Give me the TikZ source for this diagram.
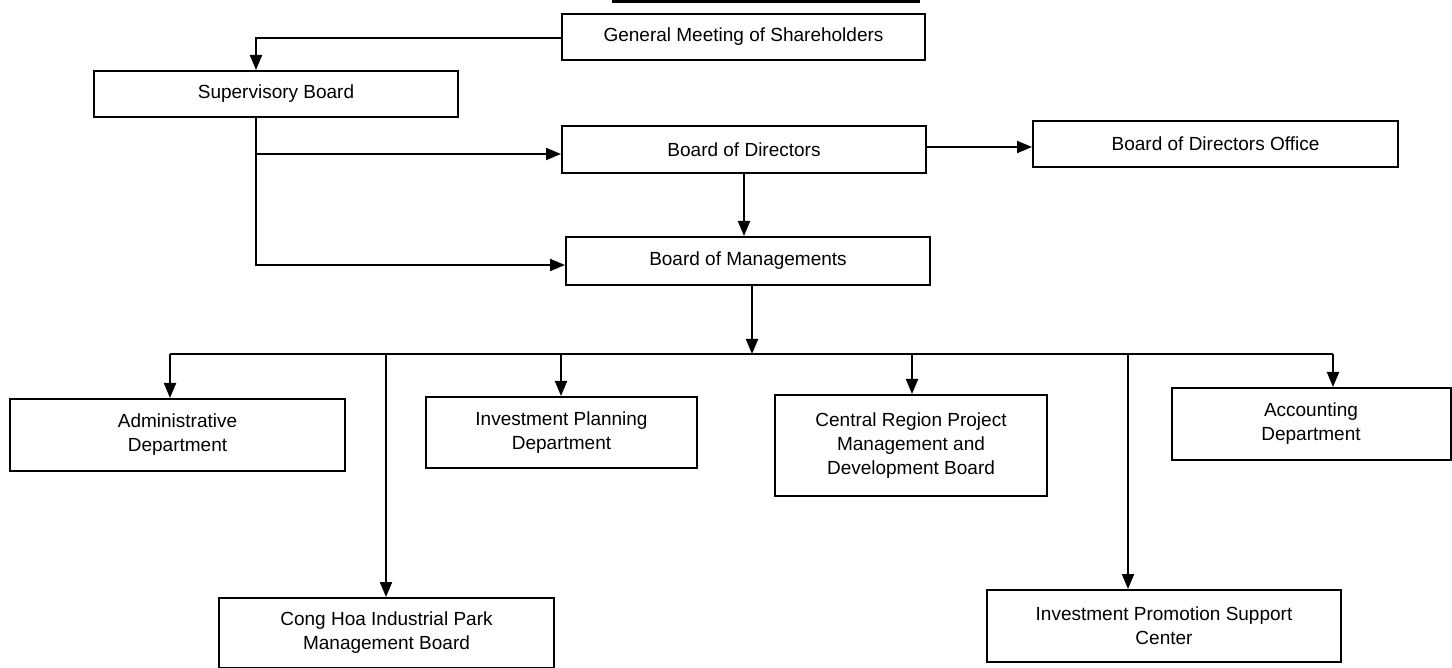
\documentclass[tikz,border=0pt]{standalone}
\usepackage{fontspec}
\setmainfont{Liberation Sans}
\usetikzlibrary{arrows.meta}

\begin{document}
\begin{tikzpicture}[x=1pt,y=-1pt,
  unit/.style={draw=black,line width=2pt,fill=white,align=center,inner sep=2pt,font=\fontsize{19}{24}\selectfont},
  link/.style={line width=2pt,-{Triangle[length=15pt,width=12pt]}}]

\useasboundingbox (0,0) rectangle (1452,668);
\draw[line width=3pt] (612,1.5) -- (920,1.5);

\node[unit,minimum width=363pt,minimum height=46pt] (gms) at (743.5,37) {General Meeting of Shareholders};
\node[unit,minimum width=364pt,minimum height=46pt] (sup) at (276,94) {Supervisory Board};
\node[unit,minimum width=364pt,minimum height=47pt] (bod) at (744,150) {Board of Directors};
\node[unit,minimum width=365pt,minimum height=46pt] (bodo) at (1215.5,144) {Board of Directors Office};
\node[unit,minimum width=364pt,minimum height=48pt] (bom) at (748,261) {Board of Managements};

\node[unit,minimum width=335pt,minimum height=72pt] (adm) at (177.5,435) {Administrative\\Department};
\node[unit,minimum width=271pt,minimum height=71pt] (ipd) at (561.5,432.5) {Investment Planning\\Department};
\node[unit,minimum width=272pt,minimum height=101pt] (crp) at (911,445.5) {Central Region Project\\Management and\\Development Board};
\node[unit,minimum width=279pt,minimum height=72pt] (acc) at (1311,424) {Accounting\\Department};
\node[unit,minimum width=335pt,minimum height=70pt] (chb) at (386.5,633) {Cong Hoa Industrial Park\\Management Board};
\node[unit,minimum width=354pt,minimum height=72pt] (ipsc) at (1164,626) {Investment Promotion Support\\Center};

\coordinate (supout) at ([xshift=-20pt]sup.south);
\coordinate (hub) at (752,354);
\coordinate (bodin) at ([yshift=-4pt]bod.west);
\coordinate (bodout) at ([yshift=3pt]bod.east);

\draw[link] ([yshift=-1pt]gms.west) -| ([xshift=-20pt]sup.north);
\draw[link] (supout) |- ([yshift=-4pt]bom.west);
\draw[link] (supout |- bodin) -- (bodin);
\draw[link] (bodout) -- (bodout -| bodo.west);
\draw[link] (bod.south) -- (bod.south |- bom.north);
\draw[link] ([xshift=4pt]bom.south) -- (hub);

\foreach \n/\d in {adm/-7.5,chb/-0.5,ipd/-0.5,crp/1,ipsc/-36,acc/22}{
  \path ([xshift=\d pt]\n.north) coordinate (top\n);
  \draw[link] (top\n |- hub) -- (top\n);
}
\draw[line width=2pt] (topadm |- hub) -- (topacc |- hub);

\end{tikzpicture}
\end{document}
